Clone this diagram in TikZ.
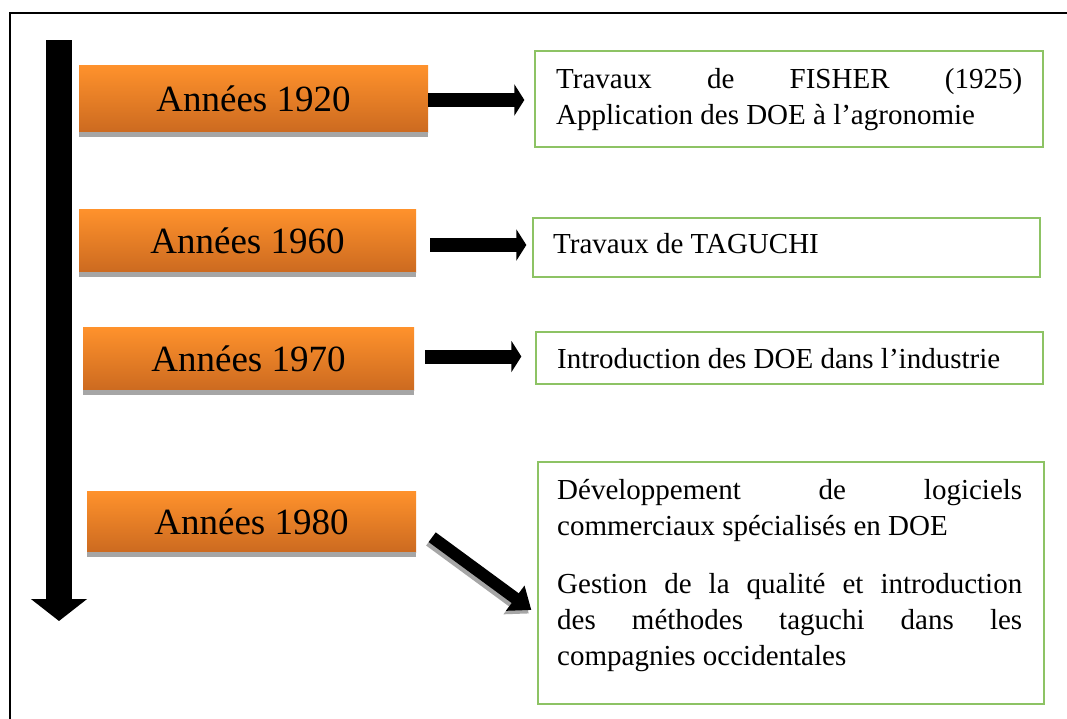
\documentclass[tikz,border=0pt]{standalone}
\usepackage{fontspec}
\setmainfont{Liberation Serif}
\usetikzlibrary{arrows.meta}
\definecolor{orTop}{RGB}{255,146,44}
\definecolor{orBot}{RGB}{204,106,32}
\definecolor{shGray}{RGB}{166,166,166}
\definecolor{grn}{RGB}{141,195,100}
\begin{document}
\begin{tikzpicture}[x=1pt,y=-1pt,
  yearbox/.style={rectangle, inner sep=0pt, top color=orTop, bottom color=orBot, draw=none,
    font=\fontsize{37}{44}\selectfont, text=black},
  infobox/.style={rectangle, draw=grn, line width=1.3pt, inner sep=0pt, fill=white},
  infotext/.style={anchor=base west, inner sep=0pt, font=\fontsize{29}{36}\selectfont},
  blockarrow/.style={line width=14pt, -{Triangle[length=10pt,width=31pt]}},
  diagarrow/.style={line width=12pt, -{Triangle[length=20pt,width=30pt]}},
  timeline/.style={line width=26pt, -{Triangle[length=22pt,width=55pt]}},
  framestyle/.style={line width=2pt, line cap=rect}
]
\useasboundingbox (0,0) rectangle (1067,718);
\fill[white] (0,0) rectangle (1067,718);

% outer frame (top and left edges visible)
\coordinate (frBL) at (10,730);
\coordinate (frTL) at (10,13);
\coordinate (frTR) at (1080,13);
\draw[framestyle] (frBL) -- (frTL) -- (frTR);

% timeline
\coordinate (tlTop) at (59,40);
\coordinate (tlTip) at (59,621);
\draw[timeline] (tlTop) -- (tlTip);

% year boxes
\node[yearbox, minimum width=349pt, minimum height=67pt] (o1) at (253.5,98.5) {Années 1920};
\node[yearbox, minimum width=337pt, minimum height=63pt] (o2) at (247.5,240.5) {Années 1960};
\node[yearbox, minimum width=331pt, minimum height=63pt] (o3) at (248.5,358.5) {Années 1970};
\node[yearbox, minimum width=329pt, minimum height=61pt] (o4) at (251.5,521.5) {Années 1980};
\foreach \n in {o1,o2,o3,o4}{
  \fill[shGray] (\n.south west) rectangle ([yshift=-5pt]\n.south east);
}

% info boxes
\node[infobox, minimum width=508pt, minimum height=96pt] (g1) at (789,99) {};
\node[infobox, minimum width=507pt, minimum height=59pt] (g2) at (786.5,247.5) {};
\node[infobox, minimum width=507pt, minimum height=52pt] (g3) at (789.5,358) {};
\node[infobox, minimum width=506pt, minimum height=242pt] (g4) at (791,583) {};

\node[infotext] (t1) at (556,88) {\parbox[t]{466pt}{%
  \hbox to \linewidth{Travaux\hfill de\hfill FISHER\hfill (1925)}\par
  Application des DOE à l’agronomie}};
\node[infotext] (t2) at (553,253) {Travaux de TAGUCHI};
\node[infotext] (t3) at (557,368) {Introduction des DOE dans l’industrie};
\node[infotext] (t4) at (557,499) {\parbox[t]{465pt}{%
  \hbox to \linewidth{Développement\hfill de\hfill logiciels}\par
  commerciaux spécialisés en DOE\par\vspace{22pt}
  \hbox to \linewidth{Gestion\hfill de\hfill la\hfill qualité\hfill et\hfill introduction}\par
  \hbox to \linewidth{des\hfill méthodes\hfill taguchi\hfill dans\hfill les}\par
  compagnies occidentales}};

% connectors
\draw[blockarrow, shorten >=10pt] (o1.east |- 0,100) -- (g1.west |- 0,100);
\draw[blockarrow, shorten <=14pt, shorten >=6pt] (o2.east |- 0,245) -- (g2.west |- 0,245);
\draw[blockarrow, shorten <=11pt, shorten >=14pt] (o3.east |- 0,356.5) -- (g3.west |- 0,356.5);
\begin{scope}[transform canvas={shift={(-2.5pt,-3.5pt)}}]
  \draw[diagarrow, shGray] ([shift={(16pt,15pt)}]o4.south east) -- ([shift={(-6pt,-27pt)}]g4.west);
\end{scope}
\draw[diagarrow] ([shift={(16pt,15pt)}]o4.south east) -- ([shift={(-6pt,-27pt)}]g4.west);
\end{tikzpicture}
\end{document}
